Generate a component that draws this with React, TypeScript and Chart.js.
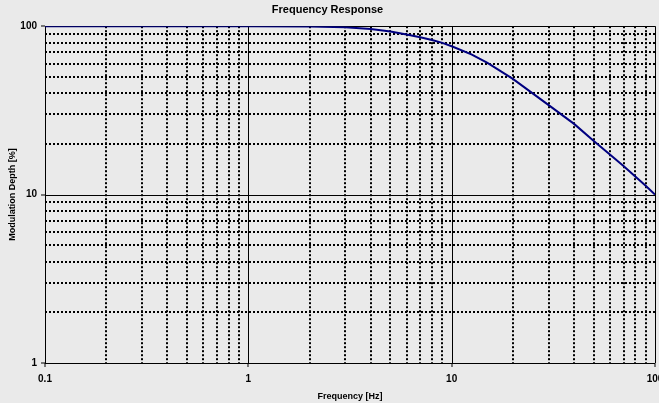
import React, { useEffect, useRef } from "react";
import { Chart, registerables } from "chart.js";

Chart.register(...registerables);

const FREQ = [0.1, 1, 2, 3, 4, 5, 6, 7, 8, 9, 10, 12.5, 15, 20, 30, 40, 50, 60, 70, 80, 90, 100];
const DEPTH = [100, 100, 99.7, 98.5, 96.3, 93, 89.2, 86, 82.9, 79.6, 76, 68, 60.5, 48.7, 34, 26.3, 20.8, 17.3, 14.8, 12.8, 11.3, 10];

const X_TICKS = [0.1, 0.2, 0.3, 0.4, 0.5, 0.6, 0.7, 0.8, 0.9, 1, 2, 3, 4, 5, 6, 7, 8, 9, 10, 20, 30, 40, 50, 60, 70, 80, 90, 100];
const Y_TICKS = [1, 2, 3, 4, 5, 6, 7, 8, 9, 10, 20, 30, 40, 50, 60, 70, 80, 90, 100];
const X_MAJOR = [0.1, 1, 10, 100];
const Y_MAJOR = [1, 10, 100];
const X_LABELS = ["0.1", "1", "10", "100"];
const Y_LABELS = ["1", "10", "100"];

const TITLE = "Frequency Response";
const X_TITLE = "Frequency [Hz]";
const Y_TITLE = "Modulation Depth [%]";

const BG = "#EAEAEA";
const FONT = "'Liberation Sans', Arial, sans-serif";

const isMajor = (v: number) => Math.abs(Math.log10(v) - Math.round(Math.log10(v))) < 1e-9;

export default function App() {
  const ref = useRef<HTMLCanvasElement | null>(null);

  useEffect(() => {
    document.body.style.margin = "0";
    const canvas = ref.current;
    if (!canvas) return;

    const bgPlugin = {
      id: "bg",
      beforeDraw(chart: any) {
        const { ctx, width, height } = chart;
        ctx.save();
        ctx.fillStyle = BG;
        ctx.fillRect(0, 0, width, height);
        ctx.restore();
      },
    };

    const majorGrid = {
      id: "majorGrid",
      beforeDatasetsDraw(chart: any) {
        const { ctx, chartArea } = chart;
        const xs = chart.scales.x;
        const ys = chart.scales.y;
        ctx.save();
        ctx.strokeStyle = "#000";
        ctx.lineWidth = 1;
        ctx.setLineDash([]);
        X_MAJOR.forEach((v) => {
          const px = Math.round(xs.getPixelForValue(v)) + 0.5;
          ctx.beginPath();
          ctx.moveTo(px, chartArea.top);
          ctx.lineTo(px, chartArea.bottom);
          ctx.stroke();
        });
        Y_MAJOR.forEach((v) => {
          const py = Math.round(ys.getPixelForValue(v)) + 0.5;
          ctx.beginPath();
          ctx.moveTo(chartArea.left, py);
          ctx.lineTo(chartArea.right, py);
          ctx.stroke();
        });
        ctx.restore();
      },
    };

    const gridColor = (c: any) => (c.tick && isMajor(c.tick.value) ? "rgba(0,0,0,0)" : "#000");
    const tickColor = (c: any) => (c.tick && isMajor(c.tick.value) ? "#000" : "rgba(0,0,0,0)");

    const chart = new Chart(canvas, {
      type: "line",
      data: {
        datasets: [
          {
            data: FREQ.map((f, i) => ({ x: f, y: DEPTH[i] })),
            borderColor: "#000080",
            borderWidth: 2,
            pointRadius: 0,
            tension: 0,
            fill: false,
          },
        ],
      },
      options: {
        animation: false,
        responsive: false,
        maintainAspectRatio: false,
        devicePixelRatio: 1,
        layout: { padding: { left: 0, right: 15, top: 0, bottom: 0 } },
        plugins: {
          legend: { display: false },
          tooltip: { enabled: false },
          title: {
            display: true,
            text: TITLE,
            color: "#000",
            font: { family: FONT, size: 11, weight: "bold" },
            padding: { top: 3, bottom: 10 },
          },
        },
        scales: {
          x: {
            type: "logarithmic",
            min: 0.1,
            max: 100,
            afterBuildTicks: (s: any) => {
              s.ticks = X_TICKS.map((v) => ({ value: v, major: isMajor(v) }));
            },
            afterFit: (s: any) => {
              s.height = 40;
            },
            ticks: {
              autoSkip: false,
              maxRotation: 0,
              minRotation: 0,
              padding: 6,
              color: "#000",
              font: { family: FONT, size: 10, weight: "bold" },
              callback: (v: any) => {
                const i = X_MAJOR.findIndex((m) => Math.abs(m - Number(v)) < 1e-9);
                return i >= 0 ? X_LABELS[i] : "";
              },
            },
            grid: {
              color: gridColor,
              lineWidth: 2,
              tickColor: tickColor,
              tickLength: 4,
              tickWidth: 1,
            },
            border: { display: false, dash: [2, 2] },
            title: {
              display: true,
              text: X_TITLE,
              color: "#000",
              font: { family: FONT, size: 9, weight: "bold" },
              padding: { top: 0, bottom: 1 },
            },
          },
          y: {
            type: "logarithmic",
            min: 1,
            max: 100,
            afterBuildTicks: (s: any) => {
              s.ticks = Y_TICKS.map((v) => ({ value: v, major: isMajor(v) }));
            },
            afterFit: (s: any) => {
              s.width = 45;
            },
            ticks: {
              autoSkip: false,
              padding: 4,
              color: "#000",
              font: { family: FONT, size: 10, weight: "bold" },
              callback: (v: any) => {
                const i = Y_MAJOR.findIndex((m) => Math.abs(m - Number(v)) < 1e-9);
                return i >= 0 ? Y_LABELS[i] : "";
              },
            },
            grid: {
              color: gridColor,
              lineWidth: 2,
              tickColor: tickColor,
              tickLength: 4,
              tickWidth: 1,
            },
            border: { display: false, dash: [2, 2] },
            title: {
              display: true,
              text: Y_TITLE,
              color: "#000",
              font: { family: FONT, size: 9, weight: "bold" },
              padding: { top: 7, bottom: 0 },
            },
          },
        },
      },
      plugins: [bgPlugin, majorGrid],
    } as any);

    return () => chart.destroy();
  }, []);

  return (
    <div
      style={{
        position: "absolute",
        left: 0,
        top: 0,
        width: 659,
        height: 403,
        overflow: "hidden",
        background: BG,
      }}
    >
      <canvas ref={ref} width={670} height={403} style={{ display: "block", width: 670, height: 403 }} />
    </div>
  );
}
